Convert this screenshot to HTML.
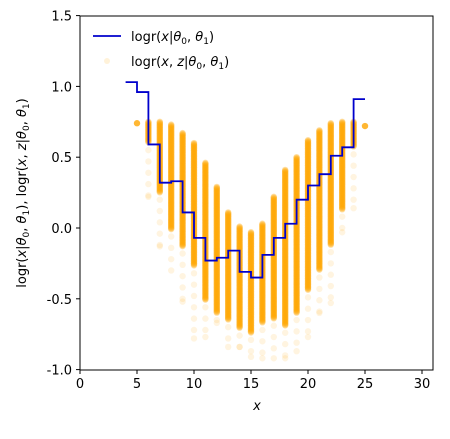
<!DOCTYPE html>
<html><head><meta charset="utf-8"><style>
body{margin:0;background:#fff;}
svg text{font-family:"DejaVu Sans","Liberation Sans",sans-serif;font-size:13px;fill:#000;}
</style></head><body>
<svg id="chart" width="450" height="434">
<g id="scatter"></g>
<g id="line"></g>
<rect x="80" y="16" width="353" height="354" fill="none" stroke="#000" stroke-width="1"/>
<g id="ticks"></g>
<text x="257" y="410" text-anchor="middle" font-style="italic">x</text>
<text transform="translate(26,193) rotate(-90)" text-anchor="middle" font-size="13">logr(<tspan font-style="italic">x</tspan>|<tspan font-style="italic">θ</tspan><tspan font-size="9" dy="3">0</tspan><tspan dy="-3">, </tspan><tspan font-style="italic">θ</tspan><tspan font-size="9" dy="3">1</tspan><tspan dy="-3">), logr(</tspan><tspan font-style="italic">x</tspan>, <tspan font-style="italic">z</tspan>|<tspan font-style="italic">θ</tspan><tspan font-size="9" dy="3">0</tspan><tspan dy="-3">, </tspan><tspan font-style="italic">θ</tspan><tspan font-size="9" dy="3">1</tspan><tspan dy="-3">)</tspan></text>
<g>
<line x1="93" y1="36" x2="121" y2="36" stroke="#0000cc" stroke-width="1.8"/>
<text x="131" y="41">logr(<tspan font-style="italic">x</tspan>|<tspan font-style="italic">θ</tspan><tspan font-size="9" dy="3">0</tspan><tspan dy="-3">, </tspan><tspan font-style="italic">θ</tspan><tspan font-size="9" dy="3">1</tspan><tspan dy="-3">)</tspan></text>
<circle cx="107" cy="61" r="3" fill="#ffa500" fill-opacity="0.15"/>
<text x="131" y="66">logr(<tspan font-style="italic">x</tspan>, <tspan font-style="italic">z</tspan>|<tspan font-style="italic">θ</tspan><tspan font-size="9" dy="3">0</tspan><tspan dy="-3">, </tspan><tspan font-style="italic">θ</tspan><tspan font-size="9" dy="3">1</tspan><tspan dy="-3">)</tspan></text>
</g>
</svg>
<script>
const stepX = [4,5,6,7,8,9,10,11,12,13,14,15,16,17,18,19,20,21,22,23,24,25];
const stepY = [1.03,0.96,0.59,0.32,0.33,0.11,-0.07,-0.23,-0.21,-0.16,-0.31,-0.35,-0.19,-0.07,0.03,0.20,0.30,0.38,0.51,0.57,0.91];
const colX = [5,6,7,8,9,10,11,12,13,14,15,16,17,18,19,20,21,22,23,24,25];
const colTop = [0.74,0.75,0.75,0.73,0.67,0.60,0.46,0.29,0.11,0.01,-0.03,0.03,0.22,0.41,0.50,0.62,0.69,0.74,0.75,0.75,0.72];
const colDenseLow = [0.74,0.60,0.25,-0.01,-0.13,-0.27,-0.51,-0.60,-0.65,-0.71,-0.74,-0.67,-0.64,-0.69,-0.60,-0.44,-0.30,-0.12,0.13,0.57,0.72];
const colMin = [0.74,0.22,-0.13,-0.30,-0.52,-0.78,-0.77,-0.67,-0.84,-0.84,-0.91,-0.92,-0.92,-0.92,-0.87,-0.77,-0.60,-0.53,-0.03,0.14,0.72];
const xTicks = [0,5,10,15,20,25,30];
const yTicks = [-1.0,-0.5,0.0,0.5,1.0,1.5];
const sx = v => 80 + v*(342/30);
const sy = v => 228 - v*141.6;
const NS='http://www.w3.org/2000/svg';
const sc=document.getElementById('scatter');
colX.forEach((x,i)=>{
  const pts=[];
  if(colTop[i]===colMin[i]){pts.push([colTop[i],0.8]);}
  else{
    for(let v=colTop[i]; v>=colDenseLow[i]; v-=0.006) pts.push([v,0.35]);
    for(let v=colDenseLow[i]-0.05; v>=colMin[i]; v-=0.08) pts.push([v,0.12]);
    pts.push([colMin[i],0.12]);
  }
  pts.forEach(p=>{
    const c=document.createElementNS(NS,'circle');
    
    
    c.setAttribute('cx',sx(x));c.setAttribute('cy',sy(p[0]));c.setAttribute('r',3.2);
    c.setAttribute('fill','#ffa500');c.setAttribute('fill-opacity',p[1]);
    sc.appendChild(c);
  });
});
let d='';
stepY.forEach((y,i)=>{
  d += (i===0?'M':'L')+sx(stepX[i])+','+sy(y)+'L'+sx(stepX[i+1])+','+sy(y);
});
const path=document.createElementNS(NS,'path');


path.setAttribute('d',d);path.setAttribute('fill','none');path.setAttribute('stroke','#0000cc');path.setAttribute('stroke-width','1.8');
document.getElementById('line').appendChild(path);
const tg=document.getElementById('ticks');
xTicks.forEach(t=>{
  const l=document.createElementNS(NS,'line');
  
  
  l.setAttribute('x1',sx(t));l.setAttribute('x2',sx(t));l.setAttribute('y1',370);l.setAttribute('y2',374);l.setAttribute('stroke','#000');
  tg.appendChild(l);
  const tx=document.createElementNS(NS,'text');
  
  
  tx.setAttribute('x',sx(t));tx.setAttribute('y',388);tx.setAttribute('text-anchor','middle');tx.textContent=t;
  tg.appendChild(tx);
});
yTicks.forEach(t=>{
  const l=document.createElementNS(NS,'line');
  
  
  l.setAttribute('x1',76);l.setAttribute('x2',80);l.setAttribute('y1',sy(t));l.setAttribute('y2',sy(t));l.setAttribute('stroke','#000');
  tg.appendChild(l);
  const tx=document.createElementNS(NS,'text');
  
  
  tx.setAttribute('x',72);tx.setAttribute('y',sy(t)+5);tx.setAttribute('text-anchor','end');tx.textContent=t.toFixed(1);
  tg.appendChild(tx);
});
</script>
</body></html>
